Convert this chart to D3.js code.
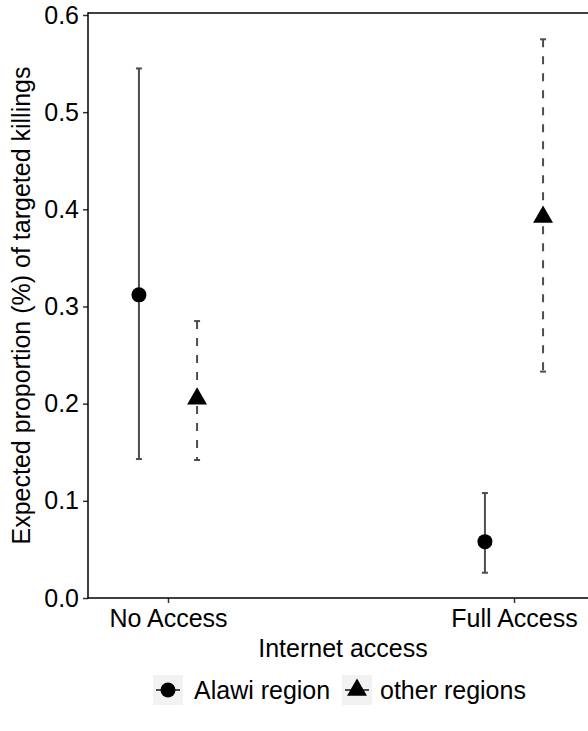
<!DOCTYPE html>
<html>
<head>
<meta charset="utf-8">
<script src="https://cdn.jsdelivr.net/npm/d3@7"></script>
<style>
  html, body { margin: 0; padding: 0; background: #fff; }
  svg text { font-family: "Liberation Sans", Arial, Helvetica, sans-serif; }
</style>
</head>
<body>
<svg id="chart" width="588" height="731"></svg>
<script>
// Internet access categories on the x axis
const categories = ["No Access", "Full Access"];
// Region groups (legend order)
const groups = ["Alawi region", "other regions"];
// Point estimates per group, one value per category
const alawiEstimate = [0.312, 0.058];
const otherEstimate = [0.205, 0.392];
// Confidence interval bounds
const alawiLower = [0.143, 0.026];
const alawiUpper = [0.545, 0.108];
const otherLower = [0.142, 0.233];
const otherUpper = [0.285, 0.575];
// Y axis ticks
const yTicks = [0.0, 0.1, 0.2, 0.3, 0.4, 0.5, 0.6];
const yTickLabels = ["0.0", "0.1", "0.2", "0.3", "0.4", "0.5", "0.6"];

const rows = [];
categories.forEach((c, i) => {
  rows.push({ cat: i, group: 0, est: alawiEstimate[i], lo: alawiLower[i], hi: alawiUpper[i] });
  rows.push({ cat: i, group: 1, est: otherEstimate[i], lo: otherLower[i], hi: otherUpper[i] });
});

const svg = d3.select("#chart");
const panel = { left: 88, right: 588, top: 13, bottom: 598 };
const fontSize = 25;
const errColor = "#4d4d4d";

const x = d3.scaleLinear().domain([0, 1]).range([168, 514]);
const dodge = 0.084;
const y = d3.scaleLinear().domain([0, 0.6]).range([panel.bottom, 15]);

// panel lines
svg.append("line").attr("x1", panel.left).attr("x2", panel.right)
  .attr("y1", panel.top).attr("y2", panel.top)
  .attr("stroke", "#000").attr("stroke-width", 1.5);

// y axis
const yAxis = svg.append("g")
  .attr("transform", `translate(${panel.left},0)`)
  .call(d3.axisLeft(y).tickValues(yTicks)
    .tickFormat((d, i) => yTickLabels[i]).tickSize(5).tickPadding(4));
yAxis.select(".domain").remove();
yAxis.selectAll(".tick line").attr("stroke", "#333").attr("stroke-width", 1.5);
yAxis.selectAll(".tick text").attr("fill", "#000").style("font-size", fontSize + "px")
  .style("font-family", "'Liberation Sans', Arial, sans-serif");
svg.append("line").attr("x1", panel.left).attr("x2", panel.left)
  .attr("y1", panel.top - 0.75).attr("y2", panel.bottom + 0.75)
  .attr("stroke", "#000").attr("stroke-width", 1.5);

// x axis
const xAxis = svg.append("g")
  .attr("transform", `translate(0,${panel.bottom})`)
  .call(d3.axisBottom(x).tickValues([0, 1])
    .tickFormat(i => categories[i]).tickSize(5).tickPadding(6));
xAxis.select(".domain").remove();
xAxis.selectAll(".tick line").attr("stroke", "#333").attr("stroke-width", 1.5);
xAxis.selectAll(".tick text").attr("fill", "#000").style("font-size", fontSize + "px")
  .style("font-family", "'Liberation Sans', Arial, sans-serif");
svg.append("line").attr("x1", panel.left).attr("x2", panel.right)
  .attr("y1", panel.bottom).attr("y2", panel.bottom)
  .attr("stroke", "#000").attr("stroke-width", 1.5);

// axis titles
svg.append("text").attr("x", 343).attr("y", 657)
  .attr("text-anchor", "middle").style("font-size", fontSize + "px")
  .text("Internet access");
svg.append("text")
  .attr("transform", `translate(30,${(panel.top + panel.bottom) / 2}) rotate(-90)`)
  .attr("text-anchor", "middle").style("font-size", fontSize + "px")
  .text("Expected proportion (%) of targeted killings");

// error bars
const capHalf = 3;
const dash = ["none", "8,9"];
const bars = svg.append("g");
rows.forEach(d => {
  const cx = x(d.cat + (d.group === 0 ? -dodge : dodge));
  const g = bars.append("g").attr("stroke", errColor).attr("stroke-width", 2).attr("fill", "none");
  g.append("line").attr("x1", cx).attr("x2", cx).attr("y1", y(d.hi)).attr("y2", y(d.lo))
    .attr("stroke-dasharray", dash[d.group]);
  g.append("line").attr("x1", cx - capHalf).attr("x2", cx + capHalf).attr("y1", y(d.hi)).attr("y2", y(d.hi));
  g.append("line").attr("x1", cx - capHalf).attr("x2", cx + capHalf).attr("y1", y(d.lo)).attr("y2", y(d.lo));
});

// point symbols
const circleSym = d3.symbol().type(d3.symbolCircle).size(Math.PI * 7.5 * 7.5);
function trianglePath(r) {
  // equilateral triangle centred on its centroid
  const h = r * 1.5;
  const w = r * Math.sqrt(3);
  return `M0,${-r}L${w / 2},${h - r}L${-w / 2},${h - r}Z`;
}
const pts = svg.append("g");
rows.forEach(d => {
  const cx = x(d.cat + (d.group === 0 ? -dodge : dodge));
  const p = d.group === 0 ? circleSym() : trianglePath(11.5);
  pts.append("path").attr("d", p).attr("transform", `translate(${cx},${y(d.est)})`).attr("fill", "#000");
});

// legend
const legendY = 690;
const keySize = 30;
const keys = [
  { x: 153, label: groups[0], tx: 194 },
  { x: 342, label: groups[1], tx: 380 }
];
keys.forEach((k, i) => {
  const g = svg.append("g").attr("transform", `translate(${k.x},${legendY - keySize / 2})`);
  g.append("rect").attr("width", keySize).attr("height", keySize).attr("fill", "#f2f2f2");
  g.append("line").attr("x1", 3).attr("x2", keySize - 3).attr("y1", keySize / 2).attr("y2", keySize / 2)
    .attr("stroke", errColor).attr("stroke-width", 2);
  const p = i === 0 ? circleSym() : trianglePath(11.5);
  g.append("path").attr("d", p).attr("transform", `translate(${keySize / 2},${keySize / 2})`).attr("fill", "#000");
  svg.append("text").attr("x", k.tx).attr("y", legendY).attr("dy", "0.35em")
    .style("font-size", fontSize + "px").text(k.label);
});
</script>
</body>
</html>
